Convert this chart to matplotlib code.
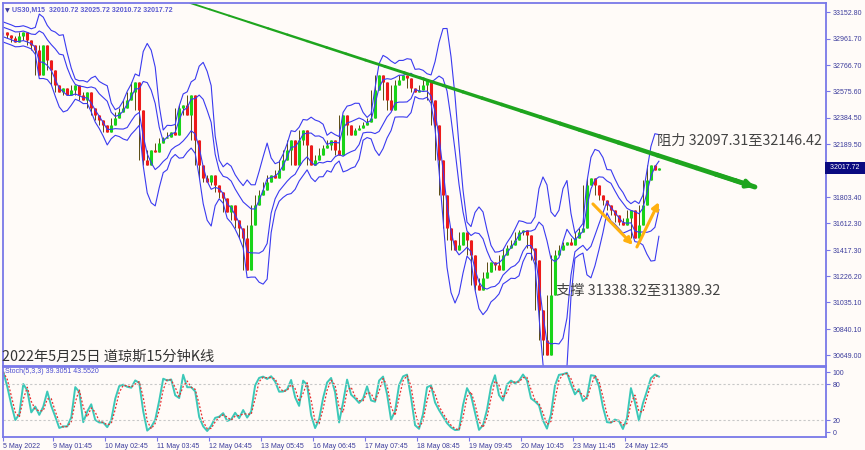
import numpy as np
import pandas as pd
import matplotlib
matplotlib.use("Agg")
import matplotlib.pyplot as plt
from matplotlib.collections import LineCollection

# US30 M15 closes, one sample per ~8 bars, 5 May .. 24 May
closes = [
    33009, 32988, 32966, 32936, 32980, 33009, 32951, 32914, 32878, 32696,
    32914, 32805, 32732, 32622, 32571, 32601, 32550, 32586, 32622, 32550,
    32513, 32571, 32455, 32403, 32367, 32330, 32279, 32330, 32382, 32425,
    32455, 32513, 32571, 32644, 32440, 32075, 32038, 32148, 32133, 32199,
    32236, 32243, 32279, 32258, 32455, 32477, 32403, 32550, 32221, 32038,
    31944, 31914, 31965, 31893, 31841, 31798, 31695, 31747, 31637, 31579,
    31506, 31272, 31601, 31747, 31820, 31856, 31914, 31965, 31944, 32002,
    32075, 32148, 32221, 32038, 32221, 32294, 32185, 32038, 32075, 32112,
    32163, 32185, 32221, 32148, 32112, 32403, 32330, 32258, 32294, 32309,
    32330, 32352, 32382, 32586, 32696, 32644, 32513, 32440, 32622, 32659,
    32696, 32674, 32601, 32571, 32586, 32622, 32659, 32513, 32330, 32075,
    31820, 31579, 31491, 31418, 31455, 31549, 31491, 31382, 31162, 31126,
    31214, 31257, 31330, 31308, 31272, 31382, 31433, 31455, 31491, 31549,
    31564, 31528, 31433, 31345, 30980, 30761, 30650, 31090, 31382, 31418,
    31455, 31476, 31455, 31506, 31549, 31579, 31893, 31944, 31893, 31820,
    31783, 31747, 31710, 31674, 31622, 31601, 31652, 31710, 31506, 31601,
    31747, 31929, 32038, 32002, 32017.72,
]
last_price = 32017.72

price_ticks = [33152.80, 32961.70, 32766.70, 32575.60, 32384.50, 32189.50,
               31998.50, 31803.40, 31612.30, 31417.30, 31226.20, 31035.10,
               30840.10, 30649.00]
date_pos = [0, 12.5, 25.5, 38.5, 51.5, 64.5, 77.5, 90.5, 103.5, 116.5,
            129.5, 142.5, 155.5]
date_labels = ["5 May 2022", "9 May 01:45", "10 May 02:45", "11 May 03:45",
               "12 May 04:45", "13 May 05:45", "16 May 06:45", "17 May 07:45",
               "18 May 08:45", "19 May 09:45", "20 May 10:45", "23 May 11:45",
               "24 May 12:45"]

# drawn objects: trend line, two orange arrows
trend_x = [46.75, 188]
trend_y = [33221, 31878]
down_x = [147.5, 157.5]
down_y = [31754, 31455]
up_x = [158.5, 164]
up_y = [31440, 31768]

BG = "#fffbf8"
SPINE = "#7878e8"
TICKC = "#3c3c9c"
SMALL = "Liberation Sans"
FS = 5.0
CJK = ["Noto Sans CJK SC", "DejaVu Sans"]

c = pd.Series(closes, dtype=float)
o = c.shift(1).fillna(c.iloc[0])
x = np.arange(len(c))
hi = c.rolling(3, center=True, min_periods=1).max()
lo = c.rolling(3, center=True, min_periods=1).min()

# two band pairs (bollinger style)
mid = c.rolling(6, min_periods=1).mean()
sd = c.rolling(6, min_periods=1).std().fillna(0).clip(lower=35)
up1, lo1 = mid + 1.0 * sd, mid - 1.0 * sd
up2, lo2 = mid + 2.1 * sd, mid - 2.1 * sd

# stochastic
hh = hi.rolling(4, min_periods=1).max()
ll = lo.rolling(4, min_periods=1).min()
raw = (100 * (c - ll) / (hh - ll).replace(0, np.nan)).fillna(50)
k = raw.rolling(2, min_periods=1).mean()
d = k.rolling(2, min_periods=1).mean()

fig = plt.figure(figsize=(8.65, 4.5), dpi=100, facecolor=BG)
W, H = 865.0, 450.0
ax = fig.add_axes([2.5 / W, 1 - 366 / H, (826 - 2.5) / W, (366 - 3) / H])
ax2 = fig.add_axes([2.5 / W, 1 - 436.5 / H, (826 - 2.5) / W, (436.5 - 367) / H],
                   sharex=ax)

for a in (ax, ax2):
    a.set_facecolor(BG)
    for s in a.spines.values():
        s.set_color(SPINE)
        s.set_linewidth(1.3)
    a.yaxis.tick_right()
    a.tick_params(axis="both", labelsize=FS, labelcolor=TICKC, color=SPINE,
                  length=3, direction="out", pad=1.5)

# candles
up = c >= o
ax.vlines(x, lo, hi, color="#5a4a10", lw=0.7)
ax.vlines(x[up], o[up], c[up], color="#19d419", lw=2.2)
ax.vlines(x[~up], o[~up], c[~up], color="#ee1a1a", lw=2.2)

for b in (up1, lo1, up2, lo2):
    ax.plot(x, b, color="#3a3af0", lw=0.8)

ax.set_xlim(-0.2, 205.8)
ax.set_ylim(30571, 33221)
ax.set_yticks(price_ticks)
ax.set_yticklabels(["%.2f" % v for v in price_ticks], family=SMALL)
ax.tick_params(axis="x", bottom=False, labelbottom=False)

# tapered trend line with arrow head
tx = np.linspace(trend_x[0], trend_x[1], 30)
ty = np.linspace(trend_y[0], trend_y[1], 30)
segs = np.stack([np.column_stack([tx[:-1], ty[:-1]]),
                 np.column_stack([tx[1:], ty[1:]])], axis=1)
ax.add_collection(LineCollection(segs, colors="#1ea51e",
                                 linewidths=np.linspace(1.3, 3.6, 29),
                                 capstyle="round"))
ax.annotate("", xy=(trend_x[1], trend_y[1]), xytext=(tx[-3], ty[-3]),
            arrowprops=dict(arrowstyle="-|>", color="#1ea51e", lw=3,
                            mutation_scale=11, shrinkA=0, shrinkB=0))
for xs, ys in ((down_x, down_y), (up_x, up_y)):
    ax.annotate("", xy=(xs[1], ys[1]), xytext=(xs[0], ys[0]),
                arrowprops=dict(arrowstyle="-|>", color="#ffb00f", lw=2.2,
                                mutation_scale=10, shrinkA=0, shrinkB=0))

# current price box
ax.text(1.002, last_price, " %.2f   " % last_price,
        transform=ax.get_yaxis_transform(),
        ha="left", va="center", fontsize=FS, color="white", family=SMALL,
        zorder=10, bbox=dict(facecolor="#0a0a80", edgecolor="none", pad=1.6))

ax.text(0.003, 0.985, "\u25bc", transform=ax.transAxes, fontsize=4.5,
        color="#3a3aa0", ha="left", va="top")
ax.text(0.012, 0.99, "US30,M15  32010.72 32025.72 32010.72 32017.72",
        transform=ax.transAxes, fontsize=FS, color="#5a5ad0", ha="left",
        va="top", fontweight="bold", family=SMALL)

ax.text(0.0, 0.026, "2022年5月25日 道琼斯15分钟K线", transform=ax.transAxes,
        fontsize=10.3, color="#333333", ha="left", va="center", family=CJK)
ax.text(163.6, 32213, "阻力 32097.31至32146.42", fontsize=10.3,
        color="#444444", ha="left", va="center", family=CJK)
ax.text(138.3, 31120, "支撑 31338.32至31389.32", fontsize=10.3,
        color="#444444", ha="left", va="center", family=CJK)

# stochastic panel
ax2.plot(x, k, color="#3cc8b8", lw=1.4)
ax2.plot(x, d, color="#e83030", lw=0.9, ls=(0, (1.5, 1.5)))
for lv in (20, 80):
    ax2.axhline(lv, color="#c8c8c8", lw=0.8, ls=(0, (2, 2)))
ax2.set_ylim(-6.7, 108.3)
ax2.set_yticks([0, 20, 80, 100])
ax2.set_yticklabels(["0", "20", "80", "100"], family=SMALL)
ax2.set_xticks(date_pos)
ax2.set_xticklabels(date_labels, ha="left", family=SMALL)
ax2.tick_params(axis="x", pad=1.5)
ax2.text(0.003, 0.985, "Stoch(5,3,3) 39.3051 43.5520", transform=ax2.transAxes,
         fontsize=FS, color="#4a4ad0", ha="left", va="top", family=SMALL)

fig.savefig("out.png", dpi=100, facecolor=BG)
